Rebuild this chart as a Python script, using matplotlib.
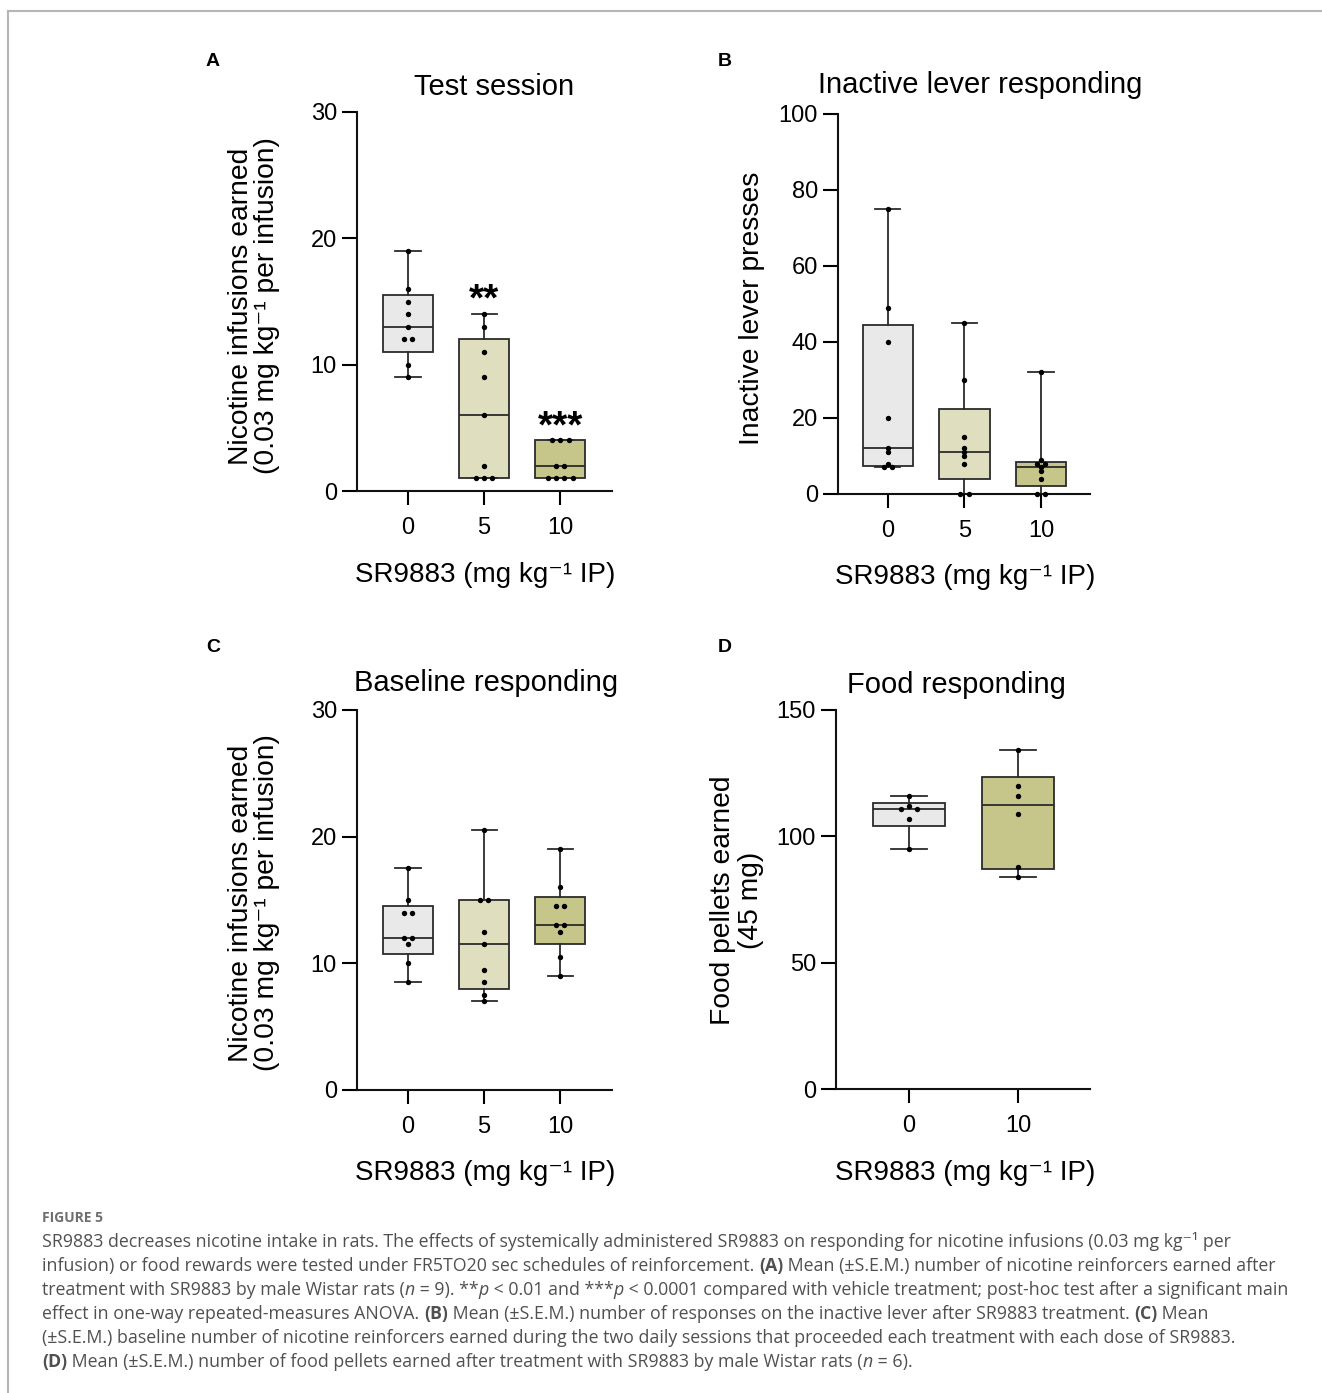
"""
Figura 5 — caixas (mín–máx) com pontos individuais, quatro painéis e legenda.
"""

import numpy as np
import matplotlib
matplotlib.use("Agg")
import matplotlib.pyplot as plt
from matplotlib.lines import Line2D
from matplotlib.font_manager import FontProperties


# ─────────────────────────────────────────────
# DADOS
# ─────────────────────────────────────────────

DOSES_3 = ["0", "5", "10"]
DOSES_2 = ["0", "10"]

TEST_0 = [19, 16, 15, 14, 13, 12, 12, 10, 9]
TEST_5 = [14, 13, 11, 9, 6, 2, 1, 1, 1]
TEST_10 = [4, 4, 4, 2, 2, 1, 1, 1, 1]
TEST_STARS = ["", "**", "***"]

INACTIVE_0 = [75, 49, 40, 20, 12, 11, 8, 7, 7]
INACTIVE_5 = [45, 30, 15, 12, 11, 10, 8, 0, 0]
INACTIVE_10 = [32, 9, 8, 8, 7, 6, 4, 0, 0]

BASELINE_0 = [17.5, 15, 14, 14, 12, 12, 11.5, 10, 8.5]
BASELINE_5 = [20.5, 15, 15, 12.5, 11.5, 9.5, 8.5, 7.5, 7]
BASELINE_10 = [19, 16, 14.5, 14.5, 13, 13, 12.5, 10.5, 9]

FOOD_0 = [116, 112, 111, 111, 107, 95]
FOOD_10 = [134, 120, 116, 109, 88, 84]

CORES = {"0": "#e9e9e9", "5": "#dfdfc0", "10": "#c6c68b"}


# ─────────────────────────────────────────────
# CONFIGURAÇÕES
# ─────────────────────────────────────────────

W, H = 1322, 1393
plt.rcParams["font.family"] = ["Liberation Sans", "DejaVu Sans"]

TAM_TICK = 17
TAM_TITULO = 21
TAM_ROTULO_X = 20
TAM_ROTULO_Y = 20.3
LINHA = "#2b2b2b"
FONTE_LEGENDA = ["Open Sans", "DejaVu Sans"]
COR_LEGENDA = "#505050"
TAM_LEGENDA = 12.8


def fx(x):
    return x / W


def fy(y):
    return 1 - y / H


def eixo_px(fig, x0, y0, x1, y1):
    """Cria eixos a partir de coordenadas em pixels (topo-esquerda)."""
    return fig.add_axes([fx(x0), fy(y1), (x1 - x0) / W, (y1 - y0) / H])


def estat_caixa(valores):
    v = np.asarray(valores, float)
    q1, med, q3 = np.percentile(v, [25, 50, 75], method="weibull")
    return dict(med=med, q1=q1, q3=q3, whislo=v.min(), whishi=v.max(), fliers=[])


def espalhar(valores, passo):
    """Pontos empatados lado a lado."""
    v = np.asarray(valores, float)
    desloc = np.zeros(len(v))
    for val in np.unique(v):
        idx = np.where(v == val)[0]
        k = len(idx)
        desloc[idx] = (np.arange(k) - (k - 1) / 2) * passo
    return desloc


def painel(ax, grupos, rotulos, passo, ylim, yticks, xlim):
    pos = np.arange(len(grupos))
    bp = ax.bxp(
        [estat_caixa(g) for g in grupos],
        positions=pos, widths=0.66, capwidths=0.33,
        patch_artist=True, showfliers=False,
        boxprops=dict(edgecolor=LINHA, linewidth=1.3),
        medianprops=dict(color=LINHA, linewidth=1.3),
        whiskerprops=dict(color=LINHA, linewidth=1.3),
        capprops=dict(color=LINHA, linewidth=1.3),
    )
    for caixa, rot in zip(bp["boxes"], rotulos):
        caixa.set_facecolor(CORES[rot])
    for p, g in zip(pos, grupos):
        ax.scatter(p + espalhar(g, passo), g, s=15, color="black",
                   linewidths=0, zorder=5, clip_on=False)

    ax.set_xlim(*xlim)
    ax.set_ylim(*ylim)
    ax.set_yticks(yticks)
    ax.set_xticks(pos, rotulos)
    for lado in ("top", "right"):
        ax.spines[lado].set_visible(False)
    for lado in ("left", "bottom"):
        ax.spines[lado].set_linewidth(1.5)
        ax.spines[lado].set_color("#111111")
    ax.tick_params(axis="y", length=11, width=1.5, pad=3.5, labelsize=TAM_TICK)
    ax.tick_params(axis="x", length=10, width=1.5, pad=9, labelsize=TAM_TICK)
    ax.set_facecolor("none")
    return ax


def linha_legenda(fig, renderer, x, y, trechos):
    """Escreve uma linha com trechos normais, negrito (b) e itálico (i)."""
    for texto, tipo in trechos:
        prop = FontProperties(
            family=FONTE_LEGENDA, size=TAM_LEGENDA,
            weight="bold" if tipo == "b" else "normal",
            style="italic" if tipo == "i" else "normal",
        )
        fig.text(fx(x), fy(y), texto, fontproperties=prop, color=COR_LEGENDA,
                 va="baseline", ha="left")
        w1, _, _ = renderer.get_text_width_height_descent("|" + texto + "|", prop, ismath=False)
        w2, _, _ = renderer.get_text_width_height_descent("||", prop, ismath=False)
        x += w1 - w2


# ─────────────────────────────────────────────
# FIGURA
# ─────────────────────────────────────────────

fig = plt.figure(figsize=(W / 100, H / 100), dpi=100)

# moldura (topo e lado esquerdo)
fig.add_artist(Line2D([fx(8), 1], [fy(11), fy(11)], color="#b5b5b5", lw=1.5))
fig.add_artist(Line2D([fx(8), fx(8)], [0, fy(11)], color="#b5b5b5", lw=1.5))

X_LABEL = "SR9883 (mg kg⁻¹ IP)"
Y_NIC = "Nicotine infusions earned\n(0.03 mg kg⁻¹ per infusion)"

# ── A: sessão de teste ──
axA = eixo_px(fig, 357, 112, 612, 491)
painel(axA, [TEST_0, TEST_5, TEST_10], DOSES_3, 0.11, (0, 30), [0, 10, 20, 30], (-0.67, 2.68))
for p, (g, est) in enumerate(zip([TEST_0, TEST_5, TEST_10], TEST_STARS)):
    if est:
        axA.annotate(est, (p, max(g)), xytext=(0, 2.5), textcoords="offset points",
                     ha="center", va="baseline", fontsize=28, fontweight="bold")

# ── B: alavanca inativa ──
axB = eixo_px(fig, 838, 114, 1090, 494)
painel(axB, [INACTIVE_0, INACTIVE_5, INACTIVE_10], DOSES_3, 0.11, (0, 100),
       [0, 20, 40, 60, 80, 100], (-0.65, 2.64))

# ── C: linha de base ──
axC = eixo_px(fig, 357, 710, 612, 1090)
painel(axC, [BASELINE_0, BASELINE_5, BASELINE_10], DOSES_3, 0.11, (0, 30),
       [0, 10, 20, 30], (-0.67, 2.68))

# ── D: comida ──
axD = eixo_px(fig, 836, 710, 1090, 1089)
painel(axD, [FOOD_0, FOOD_10], DOSES_2, 0.14, (0, 150), [0, 50, 100, 150], (-0.67, 1.66))

# títulos, letras e rótulos
for letra, x, y in [("A", 213, 61), ("B", 725, 61), ("C", 213, 648), ("D", 725, 648)]:
    fig.text(fx(x), fy(y), letra, fontsize=14, fontweight="bold", ha="center", va="center")

for titulo, x, y in [("Test session", 494, 95), ("Inactive lever responding", 980, 93),
                     ("Baseline responding", 486, 691), ("Food responding", 956, 693)]:
    fig.text(fx(x), fy(y), titulo, fontsize=TAM_TITULO, ha="center", va="baseline")

for x, y in [(485, 582), (965, 584), (485, 1180), (965, 1180)]:
    fig.text(fx(x), fy(y), X_LABEL, fontsize=TAM_ROTULO_X, ha="center", va="baseline")

for texto, x, y, esp in [(Y_NIC, 254, 306, 1.0), ("Inactive lever presses", 752, 308, 1.0),
                         (Y_NIC, 254, 903, 1.0), ("Food pellets earned\n(45 mg)", 737, 900, 1.12)]:
    fig.text(fx(x), fy(y), texto, fontsize=TAM_ROTULO_Y, rotation=90, ha="center",
             va="center", multialignment="center", linespacing=esp)

# ─────────────────────────────────────────────
# LEGENDA
# ─────────────────────────────────────────────

renderer = fig.canvas.get_renderer()
fig.text(fx(42), fy(1222), "FIGURE 5", fontsize=10, fontweight="bold",
         family=FONTE_LEGENDA, color="#6f6f6f", va="baseline")

LINHAS = [
    [("SR9883 decreases nicotine intake in rats. The effects of systemically administered SR9883 "
      "on responding for nicotine infusions (0.03 mg kg⁻¹ per", "n")],
    [("infusion) or food rewards were tested under FR5TO20 sec schedules of reinforcement. ", "n"),
     ("(A)", "b"), (" Mean (±S.E.M.) number of nicotine reinforcers earned after", "n")],
    [("treatment with SR9883 by male Wistar rats (", "n"), ("n", "i"), (" = 9). **", "n"),
     ("p", "i"), (" < 0.01 and ***", "n"), ("p", "i"),
     (" < 0.0001 compared with vehicle treatment; post-hoc test after a significant main", "n")],
    [("effect in one-way repeated-measures ANOVA. ", "n"), ("(B)", "b"),
     (" Mean (±S.E.M.) number of responses on the inactive lever after SR9883 treatment. ", "n"),
     ("(C)", "b"), (" Mean", "n")],
    [("(±S.E.M.) baseline number of nicotine reinforcers earned during the two daily sessions "
      "that proceeded each treatment with each dose of SR9883.", "n")],
    [("(D)", "b"), (" Mean (±S.E.M.) number of food pellets earned after treatment with SR9883 "
                    "by male Wistar rats (", "n"), ("n", "i"), (" = 6).", "n")],
]

for i, trechos in enumerate(LINHAS):
    linha_legenda(fig, renderer, 42, 1247 + 24 * i, trechos)

fig.savefig("out.png", dpi=100)
